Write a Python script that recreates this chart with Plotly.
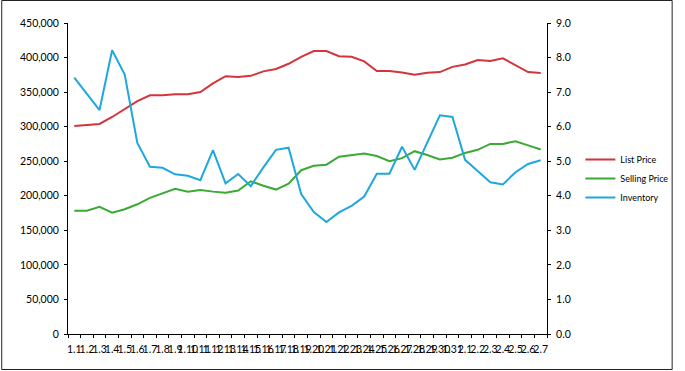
import plotly.graph_objects as go

categories = [f"1.{d}" for d in range(1, 32)] + [f"2.{d}" for d in range(1, 8)]

list_price = [301000, 302000, 304000, 314000, 325000, 337000, 345500, 345500, 347000, 347000,
              350000, 362500, 373000, 372000, 373500, 380000, 383500, 391000, 401000, 409500,
              409500, 402000, 401000, 394500, 380500, 380500, 378500, 375000, 378000, 379000,
              386500, 390000, 396500, 395000, 399000, 389000, 379000, 377500]

selling_price = [178500, 178500, 184000, 175600, 180500, 187700, 197000, 203500, 210000, 206000,
                 208500, 206000, 204500, 207500, 221000, 214500, 209000, 217500, 237000, 243500,
                 245000, 256500, 259000, 261000, 257500, 250000, 254500, 264500, 259000, 252500,
                 255000, 262000, 266500, 275000, 275000, 279000, 273000, 267000]

inventory = [7.42, 6.95, 6.48, 8.21, 7.51, 5.53, 4.84, 4.81, 4.62, 4.58,
             4.45, 5.32, 4.36, 4.63, 4.28, 4.82, 5.33, 5.39, 4.05, 3.53,
             3.24, 3.52, 3.71, 3.98, 4.64, 4.64, 5.42, 4.75, 5.55, 6.33,
             6.28, 5.04, 4.72, 4.39, 4.33, 4.68, 4.92, 5.03]

left_ticks = list(range(0, 450001, 50000))
right_ticks = [i * 1.0 for i in range(0, 10)]

W, H = 685, 371
ML, MR, MT, MB = 68, 129, 23, 37
PW, PH = W - ML - MR, H - MT - MB

FONT = "Lato"

fig = go.Figure()
fig.add_trace(go.Scatter(x=categories, y=list_price, name="List Price", mode="lines",
                         line=dict(color="#d2353c", width=2)))
fig.add_trace(go.Scatter(x=categories, y=selling_price, name="Selling Price", mode="lines",
                         line=dict(color="#3aaa35", width=2)))
fig.add_trace(go.Scatter(x=categories, y=inventory, name="Inventory", mode="lines",
                         line=dict(color="#1ea8dc", width=2), yaxis="y2"))

fig.update_layout(
    width=W, height=H,
    margin=dict(l=ML, r=MR, t=MT, b=MB, pad=0),
    paper_bgcolor="white", plot_bgcolor="white",
    font=dict(family=FONT, size=10.5, color="#000000"),
    showlegend=True,
    legend=dict(x=(590 - ML) / PW, y=(H - MB - 145) / PH, xanchor="left", yanchor="top",
                font=dict(family=FONT, size=9, color="#000000"),
                itemwidth=30, tracegroupgap=0, bgcolor="rgba(0,0,0,0)"),
    xaxis=dict(type="category", range=[-0.5, len(categories) - 0.5],
               showline=True, linecolor="#000000", linewidth=1,
               ticks="outside", ticklen=3, tickcolor="#000000", tickson="boundaries",
               tickmode="array", tickvals=categories, ticktext=categories,
               tickangle=0, tickfont=dict(size=10.5), ticklabelstandoff=5,
               showgrid=False, zeroline=False),
    yaxis=dict(range=[0, 450000], tickvals=left_ticks, tickformat=",",
               showline=True, linecolor="#000000", linewidth=1,
               ticks="outside", ticklen=3, tickcolor="#000000", ticklabelstandoff=3,
               showgrid=False, zeroline=False),
    yaxis2=dict(range=[0, 9], tickvals=right_ticks, tickformat=".1f", overlaying="y", side="right",
                showline=True, linecolor="#000000", linewidth=1,
                ticks="outside", ticklen=3, tickcolor="#000000", ticklabelstandoff=3,
                showgrid=False, zeroline=False),
)

fig.add_shape(type="rect", xref="paper", yref="paper",
              x0=(0.5 - ML) / PW, x1=(W - 1.5 - ML) / PW,
              y0=(1.5 - MB) / PH, y1=(H - MB - 0.5) / PH,
              line=dict(color="#222222", width=1), fillcolor="rgba(0,0,0,0)", layer="above")

fig.write_html("out.html",
               config={"displayModeBar": False},
               post_script="document.body.style.margin='0px';document.body.style.overflow='hidden';")
